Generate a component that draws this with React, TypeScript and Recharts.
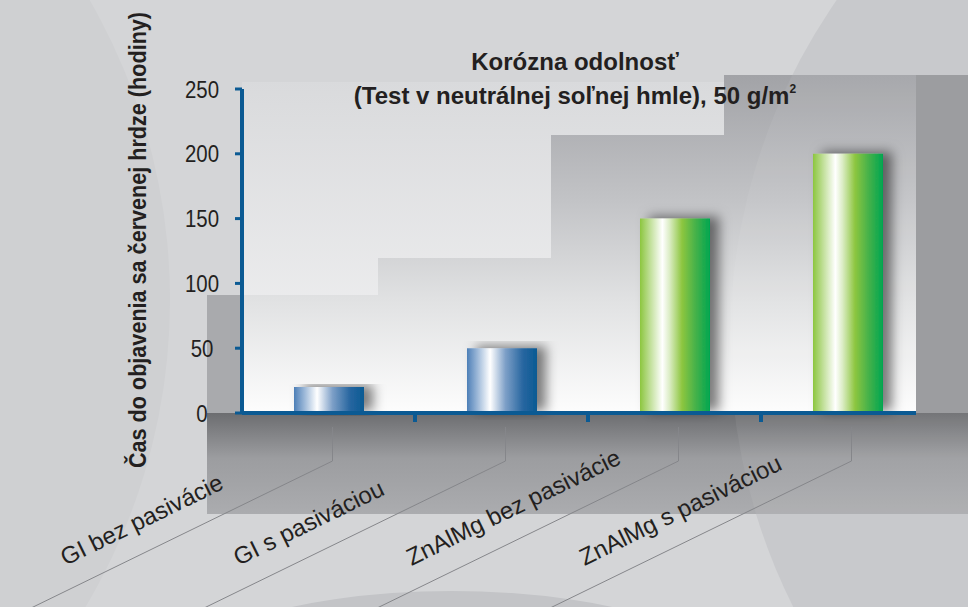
import React from "react";
import { BarChart, Bar, XAxis, YAxis, Cell, Label } from "recharts";

// chart data
const categories = ["GI bez pasivácie", "GI s pasiváciou", "ZnAlMg bez pasivácie", "ZnAlMg s pasiváciou"];
const hours = [20, 50, 150, 200];
const coating = ["gi", "gi", "znalmg", "znalmg"];
const yTicks = [0, 50, 100, 150, 200, 250];
const titleLine1 = "Korózna odolnosť";
const titleLine2 = "(Test v neutrálnej soľnej hmle), 50 g/m";
const yLabel = "Čas do objavenia sa červenej hrdze (hodiny)";

const data = categories.map((name, i) => ({ pos: i, name, hours: hours[i], coating: coating[i] }));

// layout
const W = 968;
const H = 607;
const PLOT_L = 242;
const PLOT_R = 916;
const PLOT_T = 89;
const PLOT_B = 413;
const STEP = 173; // px between bar centres
const MARGIN = { top: PLOT_T, right: W - PLOT_R, bottom: 164, left: 182 };
const X_DOMAIN = [-0.5, -0.5 + (PLOT_R - PLOT_L) / STEP];

const AXIS_BLUE = "#0b5a93";
const TEXT = "#231f20";
const FONT = "'Liberation Sans', Arial, sans-serif";
const SLOPE = Math.tan((26 * Math.PI) / 180);
const PANEL = "207,295 378,295 378,258 551,258 551,135 724,135 724,75 968,75 968,514 207,514";

const XTick = ({ x, payload }: any) => {
  const i = payload.value;
  const lx = x + 4;
  const yBend = PLOT_B + 48;
  const drop = 200;
  const tx = x - 263;
  const ty = 566;
  return (
    <g>
      {i > 0 && (
        <line x1={x - STEP / 2} x2={x - STEP / 2} y1={PLOT_B} y2={PLOT_B + 9} stroke={AXIS_BLUE} strokeWidth={4} />
      )}
      <polyline
        points={`${lx},${PLOT_B + 14} ${lx},${yBend} ${lx - drop / SLOPE},${yBend + drop}`}
        fill="none"
        stroke="#85868a"
        strokeWidth={1}
      />
      <text
        x={tx}
        y={ty}
        transform={`rotate(-26 ${tx} ${ty})`}
        fontFamily={FONT}
        fontSize={24}
        fill={TEXT}
        textAnchor="start"
      >
        {categories[i]}
      </text>
    </g>
  );
};

// condensed digits like the original
const YTick = ({ y, payload }: any) => (
  <text
    transform={`translate(202 ${y + 8.5}) scale(0.85 1)`}
    textAnchor="middle"
    fontFamily={FONT}
    fontSize={24}
    fill={TEXT}
  >
    {payload.value}
  </text>
);

const Background = () => (
  <svg width={W} height={H} style={{ position: "absolute", left: 0, top: 0 }}>
    <defs>
      <linearGradient id="upper" x1="0" y1="80" x2="0" y2="413" gradientUnits="userSpaceOnUse">
        <stop offset="0%" stopColor="#d9dadc" />
        <stop offset="100%" stopColor="#f4f4f5" />
      </linearGradient>
      <linearGradient id="inner" x1="0" y1="75" x2="0" y2="413" gradientUnits="userSpaceOnUse">
        <stop offset="0%" stopColor="#a2a3a7" />
        <stop offset="37%" stopColor="#c2c3c6" />
        <stop offset="67%" stopColor="#e1e2e3" />
        <stop offset="100%" stopColor="#fdfdfd" />
      </linearGradient>
      <linearGradient id="under" x1="0" y1="413" x2="0" y2="514" gradientUnits="userSpaceOnUse">
        <stop offset="0%" stopColor="#6c6d70" />
        <stop offset="45%" stopColor="#9c9da0" />
        <stop offset="100%" stopColor="#abacaf" />
      </linearGradient>
      <clipPath id="panelClip">
        <polygon points={PANEL} />
      </clipPath>
    </defs>
    <rect width={W} height={H} fill="#d4d5d7" />
    <circle cx={-430} cy={300} r={600} fill="#cfd0d2" />
    <circle cx={1325} cy={340} r={595} fill="#c8c9cc" />
    <ellipse cx={452} cy={700} rx={307} ry={109} fill="#c3c4c7" />
    <rect x={PLOT_L} y={82} width={PLOT_R - PLOT_L} height={PLOT_B - 82} fill="url(#upper)" />
    <polygon points={PANEL} fill="#a9aaad" />
    <polygon
      points={`${PLOT_L},295 378,295 378,258 551,258 551,135 724,135 724,75 ${PLOT_R},75 ${PLOT_R},${PLOT_B} ${PLOT_L},${PLOT_B}`}
      fill="url(#inner)"
    />
    <rect x={207} y={PLOT_B} width={W - 207} height={514 - PLOT_B} fill="url(#under)" />
    <rect x={PLOT_R} y={75} width={W - PLOT_R} height={PLOT_B - 75} fill="#96979b" />
    <circle cx={1325} cy={340} r={595} fill="#ffffff" fillOpacity={0.06} clipPath="url(#panelClip)" />
    <text x={575} y={70} textAnchor="middle" fontFamily={FONT} fontWeight="bold" fontSize={24} fill={TEXT}>
      {titleLine1}
    </text>
    <text x={575} y={104} textAnchor="middle" fontFamily={FONT} fontWeight="bold" fontSize={24} fill={TEXT}>
      {titleLine2}
      <tspan dy={-11} fontSize={12}>2</tspan>
    </text>
  </svg>
);

export default function App() {
  return (
    <div style={{ position: "absolute", left: 0, top: 0, width: W, height: H, overflow: "hidden" }}>
      <Background />
      <div style={{ position: "absolute", left: 0, top: 0 }}>
        <BarChart width={W} height={H} data={data} margin={MARGIN}>
          <defs>
            <linearGradient id="grad-gi" x1="0" y1="0" x2="1" y2="0">
              <stop offset="0%" stopColor="#4d7fb7" />
              <stop offset="15%" stopColor="#9cb8d8" />
              <stop offset="33%" stopColor="#ffffff" />
              <stop offset="55%" stopColor="#7d9fc7" />
              <stop offset="80%" stopColor="#2766a0" />
              <stop offset="100%" stopColor="#0a5a93" />
            </linearGradient>
            <linearGradient id="grad-znalmg" x1="0" y1="0" x2="1" y2="0">
              <stop offset="0%" stopColor="#8cc63f" />
              <stop offset="15%" stopColor="#c2e09b" />
              <stop offset="32%" stopColor="#ffffff" />
              <stop offset="42%" stopColor="#dcedc6" />
              <stop offset="60%" stopColor="#8dc63f" />
              <stop offset="80%" stopColor="#43b14a" />
              <stop offset="100%" stopColor="#00a651" />
            </linearGradient>
            <filter id="barShadow" x="-20%" y="-10%" width="160%" height="120%">
              <feDropShadow dx={9} dy={-2} stdDeviation={6} floodColor="#000" floodOpacity={0.5} />
            </filter>
          </defs>
          <XAxis
            dataKey="pos"
            type="number"
            domain={X_DOMAIN}
            ticks={[0, 1, 2, 3]}
            allowDataOverflow
            height={30}
            axisLine={{ stroke: AXIS_BLUE, strokeWidth: 4 }}
            tickLine={false}
            tick={<XTick />}
            interval={0}
          />
          <YAxis
            domain={[0, 250]}
            ticks={yTicks}
            width={60}
            axisLine={{ stroke: AXIS_BLUE, strokeWidth: 4 }}
            tickLine={{ stroke: AXIS_BLUE, strokeWidth: 3 }}
            tickSize={7}
            tick={<YTick />}
          >
            <Label
              content={() => (
                <text
                  transform="translate(146 240) rotate(-90) scale(0.9 1)"
                  textAnchor="middle"
                  fontFamily={FONT}
                  fontWeight="bold"
                  fontSize={24}
                  fill={TEXT}
                >
                  {yLabel}
                </text>
              )}
            />
          </YAxis>
          <Bar dataKey="hours" barSize={70} isAnimationActive={false}>
            {data.map((d, i) => (
              <Cell key={`bar-${i}`} fill={`url(#grad-${d.coating})`} filter="url(#barShadow)" />
            ))}
          </Bar>
        </BarChart>
      </div>
    </div>
  );
}
